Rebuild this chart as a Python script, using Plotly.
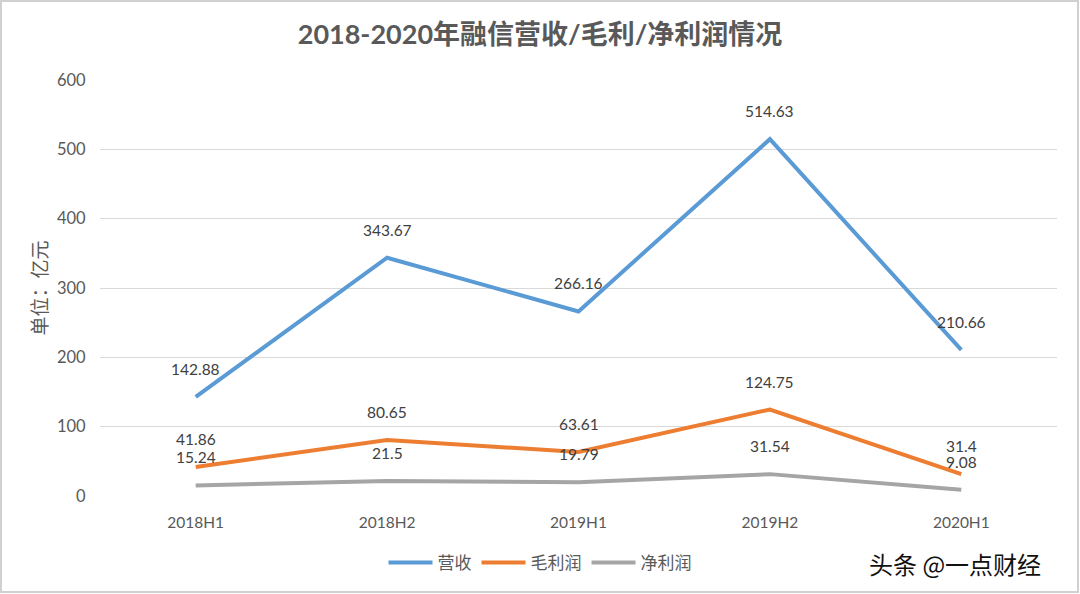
import plotly.graph_objects as go

categories = ["2018H1", "2018H2", "2019H1", "2019H2", "2020H1"]
revenue = [142.88, 343.67, 266.16, 514.63, 210.66]
gross_profit = [41.86, 80.65, 63.61, 124.75, 31.4]
net_profit = [15.24, 21.5, 19.79, 31.54, 9.08]
series_names = ["营收", "毛利润", "净利润"]
y_ticks = [0, 100, 200, 300, 400, 500, 600]

colors = ["#5b9bd5", "#ed7d31", "#a5a5a5"]
FONT = "Lato, 'Noto Sans CJK SC', sans-serif"

W, H = 1080, 594
L, R, T, B = 100, 23, 80, 98
pw, ph = W - L - R, H - T - B

def px_x(p):
    return (p - L) / pw

def px_y(p):
    return (H - B - p) / ph

fig = go.Figure()
for name, vals, c in zip(series_names, [revenue, gross_profit, net_profit], colors):
    fig.add_trace(go.Scatter(x=categories, y=vals, name=name, mode="lines",
                             line=dict(color=c, width=4)))
    for cat, v in zip(categories, vals):
        fig.add_annotation(x=cat, y=v, text=f"{v:g}", showarrow=False, yshift=28,
                           font=dict(family=FONT, size=15.5, color="#404040"))

fig.update_layout(
    width=W, height=H,
    margin=dict(l=L, r=R, t=T, b=B),
    paper_bgcolor="white", plot_bgcolor="white",
    title=dict(text="<b>2018-2020年融信营收/毛利/净利润情况</b>", x=0.5, xanchor="center",
               y=1 - 35 / H, yanchor="middle",
               font=dict(family=FONT, size=27, color="#595959")),
    showlegend=True,
    legend=dict(orientation="h", x=px_x(540), xanchor="center", y=px_y(563), yanchor="middle",
                font=dict(family=FONT, size=17, color="#595959"), itemwidth=44,
                traceorder="normal"),
    font=dict(family=FONT),
)
fig.update_xaxes(range=[-0.5, 4.5], showgrid=False, showline=False, zeroline=False,
                 ticks="outside", ticklen=12, tickcolor="rgba(0,0,0,0)",
                 tickfont=dict(family=FONT, size=15.5, color="#595959"))
fig.update_yaxes(range=[0, 600], tickvals=y_ticks, showgrid=True, gridcolor="#d9d9d9",
                 gridwidth=1, zeroline=False, showline=False,
                 ticks="outside", ticklen=10, tickcolor="rgba(0,0,0,0)",
                 tickfont=dict(family=FONT, size=16.5, color="#595959"),
                 title=dict(text="单位：亿元", standoff=4,
                            font=dict(family=FONT, size=19, color="#595959")))

fig.add_annotation(xref="paper", yref="paper", x=px_x(955), y=px_y(563), text="头条 @一点财经",
                   showarrow=False, xanchor="center", yanchor="middle",
                   font=dict(family="'Noto Sans CJK SC'", size=24, color="#111111"))
fig.add_shape(type="rect", xref="paper", yref="paper",
              x0=px_x(1), x1=px_x(1078), y0=px_y(592), y1=px_y(1),
              line=dict(color="#d0d0d0", width=2), fillcolor="rgba(0,0,0,0)")

fig.write_html("out.html", config={"displayModeBar": False},
               post_script="document.body.style.margin='0';")
